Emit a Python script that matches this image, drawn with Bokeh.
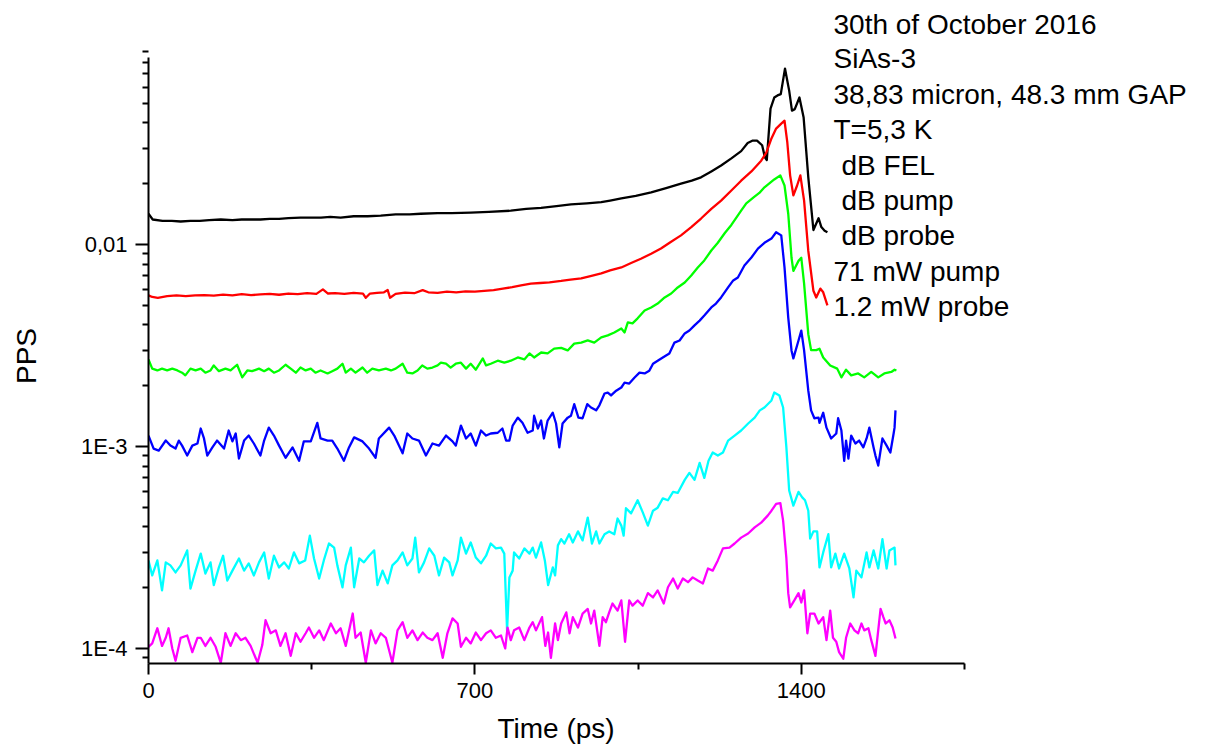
import math
from bokeh.plotting import figure
from bokeh.models import Range1d, FixedTicker, CustomJSTickFormatter, Label, Title
from bokeh.embed import file_html
from bokeh.resources import INLINE

# ---------------- data ----------------
black_x = [0, 9, 30, 50, 69, 90, 110, 130, 155, 180, 200, 220, 240, 260, 280, 300, 326, 350, 370, 390,
           412, 440, 470, 498, 530, 560, 584, 620, 650, 691, 730, 777, 810, 842, 875, 906, 940, 971, 990,
           1014, 1045, 1078, 1110, 1142, 1165, 1185, 1207, 1228, 1250, 1271, 1285, 1296, 1305, 1316, 1322,
           1326, 1334, 1342, 1349, 1356, 1365, 1374, 1380, 1386, 1396, 1405, 1415, 1426, 1437, 1443, 1450, 1456]
black_y = [0.0142, 0.0133, 0.0131, 0.0131, 0.0130, 0.0131, 0.0131, 0.0132, 0.0133, 0.0132, 0.0133, 0.0133,
           0.0133, 0.0134, 0.0134, 0.0135, 0.0136, 0.0136, 0.0136, 0.0137, 0.0136, 0.0138, 0.0138, 0.0139,
           0.0141, 0.0141, 0.0142, 0.0143, 0.0143, 0.0144, 0.0145, 0.0147, 0.0150, 0.0152, 0.0155, 0.0158,
           0.0160, 0.0162, 0.0165, 0.0169, 0.0174, 0.0181, 0.0190, 0.0200, 0.0207, 0.0215, 0.0230, 0.0246,
           0.0267, 0.0290, 0.0318, 0.0327, 0.0327, 0.0310, 0.0270, 0.0262, 0.0471, 0.0534, 0.0547, 0.0555,
           0.0743, 0.0578, 0.0460, 0.0468, 0.0534, 0.0425, 0.0215, 0.0118, 0.0135, 0.0122, 0.0117, 0.0115]

red_x = [0, 8, 20, 40, 60, 80, 100, 120, 140, 160, 180, 200, 220, 240, 260, 280, 300, 320, 340, 360, 374,
         385, 400, 420, 440, 460, 466, 475, 490, 505, 513, 518, 530, 550, 570, 588, 600, 620, 640, 660, 680,
         700, 720, 740, 760, 780, 799, 820, 840, 860, 885, 905, 928, 950, 971, 990, 1014, 1035, 1056, 1078,
         1099, 1120, 1142, 1164, 1185, 1207, 1228, 1250, 1271, 1293, 1314, 1325, 1336, 1346, 1357, 1364,
         1370, 1376, 1383, 1391, 1398, 1406, 1415, 1426, 1432, 1441, 1447, 1456]
red_y = [5.6e-3, 5.5e-3, 5.45e-3, 5.55e-3, 5.6e-3, 5.55e-3, 5.6e-3, 5.62e-3, 5.58e-3, 5.65e-3, 5.6e-3,
         5.68e-3, 5.62e-3, 5.66e-3, 5.7e-3, 5.64e-3, 5.72e-3, 5.68e-3, 5.74e-3, 5.7e-3, 6.0e-3, 5.72e-3,
         5.74e-3, 5.7e-3, 5.76e-3, 5.72e-3, 5.45e-3, 5.72e-3, 5.76e-3, 5.8e-3, 5.95e-3, 5.45e-3, 5.7e-3,
         5.78e-3, 5.74e-3, 5.95e-3, 5.8e-3, 5.76e-3, 5.84e-3, 5.8e-3, 5.86e-3, 5.84e-3, 5.9e-3, 5.95e-3,
         6.05e-3, 6.15e-3, 6.27e-3, 6.4e-3, 6.45e-3, 6.5e-3, 6.6e-3, 6.7e-3, 6.8e-3, 7.0e-3, 7.2e-3,
         7.45e-3, 7.7e-3, 8.1e-3, 8.5e-3, 9.0e-3, 9.55e-3, 1.03e-2, 1.11e-2, 1.22e-2, 1.345e-2, 1.5e-2,
         1.65e-2, 1.85e-2, 2.07e-2, 2.3e-2, 2.6e-2, 2.85e-2, 3.35e-2, 3.75e-2, 3.97e-2, 4.1e-2, 3.2e-2,
         2.2e-2, 1.75e-2, 1.96e-2, 2.2e-2, 1.65e-2, 9.3e-3, 5.9e-3, 5.47e-3, 6.05e-3, 5.8e-3, 5.0e-3]

green_x = [0, 8, 19, 29, 40, 51, 62, 72, 79, 90, 101, 112, 122, 133, 140, 151, 165, 176, 190, 201, 212, 222,
           237, 248, 258, 269, 280, 294, 305, 316, 326, 337, 348, 358, 369, 384, 394, 405, 416, 423, 434,
           444, 459, 469, 480, 494, 509, 520, 530, 545, 555, 566, 577, 587, 598, 609, 620, 627, 638, 648,
           659, 670, 681, 691, 702, 717, 724, 734, 749, 763, 777, 792, 806, 817, 827, 842, 856, 870, 885,
           899, 913, 928, 942, 956, 971, 985, 999, 1014, 1021, 1028, 1038, 1049, 1064, 1078, 1092, 1107,
           1121, 1135, 1150, 1164, 1178, 1192, 1207, 1221, 1236, 1250, 1271, 1282, 1299, 1310, 1321, 1342,
           1355, 1364, 1372, 1379, 1383, 1394, 1400, 1406, 1415, 1421, 1432, 1439, 1447, 1462, 1477, 1486,
           1496, 1507, 1522, 1535, 1550, 1565, 1578, 1593, 1600, 1604]
green_y = [2.7e-3, 2.43e-3, 2.38e-3, 2.43e-3, 2.38e-3, 2.43e-3, 2.38e-3, 2.32e-3, 2.25e-3, 2.43e-3, 2.38e-3,
           2.43e-3, 2.32e-3, 2.38e-3, 2.52e-3, 2.36e-3, 2.43e-3, 2.38e-3, 2.54e-3, 2.2e-3, 2.38e-3, 2.36e-3,
           2.43e-3, 2.36e-3, 2.43e-3, 2.32e-3, 2.38e-3, 2.54e-3, 2.43e-3, 2.32e-3, 2.46e-3, 2.38e-3, 2.43e-3,
           2.32e-3, 2.38e-3, 2.30e-3, 2.36e-3, 2.43e-3, 2.57e-3, 2.32e-3, 2.43e-3, 2.32e-3, 2.46e-3, 2.32e-3,
           2.43e-3, 2.38e-3, 2.43e-3, 2.38e-3, 2.43e-3, 2.57e-3, 2.32e-3, 2.30e-3, 2.38e-3, 2.52e-3, 2.43e-3,
           2.46e-3, 2.52e-3, 2.6e-3, 2.57e-3, 2.46e-3, 2.57e-3, 2.6e-3, 2.43e-3, 2.57e-3, 2.40e-3, 2.73e-3,
           2.52e-3, 2.57e-3, 2.66e-3, 2.60e-3, 2.66e-3, 2.76e-3, 2.70e-3, 2.89e-3, 2.76e-3, 2.92e-3, 2.89e-3,
           3.05e-3, 3.08e-3, 2.99e-3, 3.23e-3, 3.27e-3, 3.35e-3, 3.27e-3, 3.47e-3, 3.55e-3, 3.67e-3, 3.84e-3,
           3.67e-3, 4.12e-3, 4.07e-3, 4.31e-3, 4.71e-3, 4.88e-3, 5.1e-3, 5.47e-3, 5.72e-3, 6.13e-3, 6.49e-3,
           7.03e-3, 7.7e-3, 8.34e-3, 9.34e-3, 1.02e-2, 1.14e-2, 1.25e-2, 1.47e-2, 1.6e-2, 1.72e-2, 1.8e-2,
           1.92e-2, 2.1e-2, 2.2e-2, 1.96e-2, 1.42e-2, 8.6e-3, 7.4e-3, 8.3e-3, 8.6e-3, 6.4e-3, 3.6e-3, 3.0e-3,
           3.0e-3, 3.05e-3, 2.76e-3, 2.52e-3, 2.43e-3, 2.2e-3, 2.40e-3, 2.25e-3, 2.30e-3, 2.2e-3, 2.34e-3,
           2.2e-3, 2.30e-3, 2.34e-3, 2.40e-3, 2.38e-3]

blue_x = [0, 11, 22, 37, 47, 58, 65, 72, 83, 94, 105, 112, 119, 126, 137, 147, 162, 172, 180, 187, 194, 205,
          215, 226, 240, 248, 258, 269, 280, 294, 309, 323, 333, 348, 362, 369, 384, 394, 405, 419, 430, 441,
          459, 473, 487, 494, 516, 527, 545, 555, 566, 580, 595, 609, 623, 638, 652, 659, 670, 681, 691, 702,
          713, 724, 734, 749, 759, 767, 774, 781, 792, 802, 813, 824, 827, 835, 842, 848, 856, 867, 874, 881,
          888, 899, 906, 913, 922, 931, 941, 949, 960, 967, 978, 985, 992, 1003, 1014, 1021, 1031, 1042, 1053,
          1064, 1074, 1082, 1092, 1103, 1117, 1128, 1139, 1150, 1160, 1171, 1182, 1192, 1207, 1217, 1228,
          1243, 1254, 1264, 1278, 1293, 1307, 1321, 1336, 1346, 1357, 1364, 1372, 1379, 1383, 1394, 1400,
          1406, 1415, 1421, 1428, 1437, 1439, 1447, 1454, 1464, 1475, 1479, 1486, 1492, 1496, 1501, 1507,
          1516, 1524, 1533, 1540, 1546, 1555, 1559, 1565, 1574, 1583, 1591, 1598, 1600, 1602]
blue_y = [1.133e-3, 9.77e-4, 9.55e-4, 1.071e-3, 1.011e-3, 9.77e-4, 1.07e-3, 1.01e-3, 9.02e-4, 1.01e-3,
          1.035e-3, 1.228e-3, 1.096e-3, 9.02e-4, 9.9e-4, 1.07e-3, 9.77e-4, 1.2e-3, 1.06e-3, 1.16e-3, 8.72e-4,
          1.07e-3, 1.133e-3, 1.035e-3, 9.02e-4, 1.07e-3, 1.24e-3, 1.133e-3, 1.01e-3, 8.8e-4, 9.9e-4, 8.5e-4,
          1.06e-3, 1.06e-3, 1.31e-3, 1.096e-3, 1.07e-3, 1.07e-3, 9.77e-4, 8.5e-4, 9.9e-4, 1.11e-3, 1.06e-3,
          9.77e-4, 8.8e-4, 1.096e-3, 1.24e-3, 1.133e-3, 9.25e-4, 1.16e-3, 1.096e-3, 1.07e-3, 9.02e-4,
          1.035e-3, 1.01e-3, 1.133e-3, 1.06e-3, 1.01e-3, 1.27e-3, 1.096e-3, 1.16e-3, 1.01e-3, 1.2e-3,
          1.133e-3, 1.16e-3, 1.17e-3, 1.228e-3, 1.07e-3, 1.07e-3, 1.27e-3, 1.39e-3, 1.31e-3, 1.17e-3, 1.2e-3,
          1.42e-3, 1.228e-3, 1.345e-3, 1.096e-3, 1.345e-3, 1.47e-3, 1.3e-3, 9.9e-4, 1.3e-3, 1.39e-3, 1.42e-3,
          1.62e-3, 1.39e-3, 1.38e-3, 1.62e-3, 1.56e-3, 1.51e-3, 1.60e-3, 1.83e-3, 1.85e-3, 1.79e-3, 1.89e-3,
          1.96e-3, 2.07e-3, 2.05e-3, 2.19e-3, 2.32e-3, 2.30e-3, 2.37e-3, 2.57e-3, 2.66e-3, 2.76e-3, 2.89e-3,
          3.27e-3, 3.35e-3, 3.63e-3, 3.75e-3, 3.98e-3, 4.2e-3, 4.45e-3, 4.88e-3, 5.1e-3, 5.47e-3, 6.13e-3,
          6.64e-3, 6.87e-3, 7.87e-3, 8.62e-3, 9.55e-3, 1.02e-2, 1.07e-2, 1.15e-2, 1.11e-2, 7.7e-3, 4.35e-3,
          2.99e-3, 2.73e-3, 3.35e-3, 3.75e-3, 2.99e-3, 1.89e-3, 1.51e-3, 1.38e-3, 1.39e-3, 1.31e-3, 1.47e-3,
          1.24e-3, 1.096e-3, 1.16e-3, 1.38e-3, 1.2e-3, 8.5e-4, 1.07e-3, 8.72e-4, 1.133e-3, 1.035e-3, 1.07e-3,
          9.9e-4, 1.096e-3, 1.24e-3, 9.9e-4, 9.02e-4, 8.05e-4, 1.096e-3, 1.01e-3, 9.34e-4, 1.16e-3, 1.24e-3,
          1.51e-3]

cyan_x = [0, 8, 19, 29, 37, 47, 58, 69, 83, 90, 101, 112, 122, 133, 140, 151, 160, 169, 180, 194, 205, 215,
          226, 237, 248, 258, 269, 280, 291, 301, 312, 323, 336, 346, 355, 366, 376, 387, 398, 405, 416, 423,
          434, 441, 452, 462, 473, 484, 491, 502, 513, 523, 534, 545, 555, 566, 572, 580, 591, 602, 613, 623,
          634, 645, 652, 663, 670, 681, 691, 702, 713, 724, 734, 745, 756, 763, 769, 774, 781, 784, 795, 806,
          817, 824, 831, 842, 850, 857, 867, 872, 878, 885, 892, 902, 910, 921, 931, 942, 951, 960, 967, 978,
          988, 999, 1006, 1014, 1019, 1024, 1035, 1049, 1060, 1071, 1082, 1092, 1103, 1114, 1125, 1135, 1150,
          1160, 1171, 1182, 1192, 1201, 1210, 1221, 1232, 1243, 1257, 1271, 1286, 1300, 1311, 1321, 1336,
          1342, 1353, 1361, 1368, 1374, 1383, 1394, 1402, 1408, 1415, 1419, 1426, 1434, 1439, 1447, 1458,
          1464, 1473, 1481, 1492, 1503, 1512, 1518, 1529, 1540, 1546, 1555, 1565, 1574, 1583, 1589, 1600, 1602]
cyan_y = [2.73e-4, 2.30e-4, 2.73e-4, 1.94e-4, 2.67e-4, 2.58e-4, 2.38e-4, 2.58e-4, 3.06e-4, 1.98e-4, 2.43e-4,
          2.95e-4, 2.35e-4, 2.67e-4, 2.06e-4, 2.52e-4, 2.88e-4, 2.17e-4, 2.43e-4, 2.79e-4, 2.43e-4, 2.64e-4,
          2.30e-4, 2.67e-4, 2.99e-4, 2.22e-4, 2.88e-4, 2.52e-4, 2.67e-4, 2.49e-4, 2.99e-4, 2.64e-4, 2.73e-4,
          3.62e-4, 2.79e-4, 2.22e-4, 2.73e-4, 3.31e-4, 3.16e-4, 2.58e-4, 2.01e-4, 2.58e-4, 3.16e-4, 2.01e-4,
          2.79e-4, 2.67e-4, 2.88e-4, 3.06e-4, 2.06e-4, 2.43e-4, 2.10e-4, 2.58e-4, 2.73e-4, 2.99e-4, 2.58e-4,
          2.79e-4, 3.54e-4, 2.38e-4, 2.67e-4, 3.13e-4, 2.88e-4, 2.30e-4, 2.82e-4, 2.67e-4, 2.30e-4, 2.73e-4,
          3.54e-4, 2.95e-4, 3.35e-4, 2.82e-4, 2.64e-4, 2.88e-4, 3.31e-4, 3.13e-4, 3.16e-4, 2.95e-4, 1.23e-4,
          2.25e-4, 2.43e-4, 2.99e-4, 2.79e-4, 3.13e-4, 2.95e-4, 3.16e-4, 2.82e-4, 3.35e-4, 2.73e-4, 2.06e-4,
          2.52e-4, 2.30e-4, 3.24e-4, 3.48e-4, 3.31e-4, 3.68e-4, 3.35e-4, 3.80e-4, 3.43e-4, 4.45e-4, 3.31e-4,
          3.80e-4, 3.31e-4, 3.68e-4, 3.80e-4, 3.68e-4, 4.4e-4, 4.06e-4, 3.62e-4, 4.95e-4, 4.67e-4, 5.42e-4,
          4.72e-4, 4.06e-4, 4.81e-4, 4.98e-4, 5.54e-4, 5.42e-4, 5.96e-4, 5.89e-4, 6.84e-4, 7.4e-4, 6.84e-4,
          8.3e-4, 6.99e-4, 8.5e-4, 9.34e-4, 9.02e-4, 9.34e-4, 1.07e-3, 1.133e-3, 1.2e-3, 1.3e-3, 1.39e-3,
          1.51e-3, 1.56e-3, 1.69e-3, 1.85e-3, 1.79e-3, 1.56e-3, 9.9e-4, 6.06e-4, 5.1e-4, 5.96e-4, 5.6e-4,
          5.42e-4, 4.81e-4, 3.5e-4, 3.8e-4, 3.8e-4, 2.52e-4, 2.99e-4, 3.68e-4, 2.52e-4, 2.95e-4, 2.49e-4,
          2.95e-4, 2.49e-4, 1.79e-4, 2.43e-4, 2.25e-4, 2.99e-4, 2.52e-4, 3.06e-4, 2.49e-4, 3.48e-4, 2.49e-4,
          3.06e-4, 3.16e-4, 2.58e-4]

magenta_x = [0, 8, 19, 29, 37, 43, 51, 58, 69, 83, 94, 105, 112, 122, 133, 144, 155, 165, 176, 187, 198, 208,
             219, 234, 244, 251, 262, 273, 283, 294, 305, 316, 326, 337, 344, 355, 366, 376, 391, 402, 412,
             423, 438, 444, 455, 466, 477, 487, 498, 509, 523, 534, 545, 555, 566, 577, 588, 598, 609, 620,
             631, 641, 652, 663, 670, 681, 691, 702, 713, 724, 734, 745, 756, 765, 770, 777, 784, 795, 806,
             817, 824, 831, 844, 851, 857, 863, 872, 878, 885, 896, 903, 910, 921, 931, 942, 949, 956, 967,
             974, 981, 988, 995, 1006, 1014, 1022, 1031, 1038, 1049, 1060, 1071, 1082, 1092, 1105, 1114,
             1125, 1135, 1146, 1157, 1167, 1178, 1189, 1200, 1210, 1221, 1232, 1246, 1257, 1271, 1286, 1300,
             1314, 1328, 1336, 1346, 1355, 1361, 1368, 1372, 1376, 1385, 1394, 1400, 1406, 1413, 1419, 1428,
             1437, 1447, 1454, 1462, 1468, 1475, 1481, 1490, 1496, 1505, 1514, 1522, 1529, 1535, 1544, 1550,
             1559, 1570, 1576, 1581, 1589, 1596, 1602]
magenta_y = [1.02e-4, 1.06e-4, 1.26e-4, 1.03e-4, 1.13e-4, 1.26e-4, 1.0e-4, 8.7e-5, 1.13e-4, 1.16e-4, 9.6e-5,
             1.13e-4, 1.13e-4, 1.03e-4, 1.13e-4, 1.02e-4, 8.5e-5, 1.19e-4, 1.03e-4, 1.19e-4, 1.10e-4, 1.13e-4,
             1.03e-4, 8.5e-5, 1.04e-4, 1.38e-4, 1.19e-4, 1.23e-4, 1.03e-4, 1.19e-4, 9.2e-5, 1.19e-4, 1.08e-4,
             1.19e-4, 1.27e-4, 1.13e-4, 1.23e-4, 1.10e-4, 1.33e-4, 1.19e-4, 1.26e-4, 1.03e-4, 1.49e-4, 1.13e-4,
             1.2e-4, 8.5e-5, 1.23e-4, 1.06e-4, 1.19e-4, 1.13e-4, 8.5e-5, 1.23e-4, 1.35e-4, 1.13e-4, 1.23e-4,
             1.10e-4, 1.2e-4, 1.13e-4, 1.10e-4, 1.19e-4, 9.0e-5, 1.19e-4, 1.41e-4, 1.33e-4, 1.02e-4, 1.13e-4,
             1.06e-4, 1.2e-4, 1.10e-4, 1.19e-4, 1.23e-4, 1.13e-4, 1.16e-4, 1.0e-4, 1.27e-4, 1.10e-4, 1.23e-4,
             1.27e-4, 1.10e-4, 1.27e-4, 1.35e-4, 1.23e-4, 1.43e-4, 1.03e-4, 1.2e-4, 9.0e-5, 1.33e-4, 1.10e-4,
             1.33e-4, 1.51e-4, 1.19e-4, 1.43e-4, 1.27e-4, 1.49e-4, 1.57e-4, 1.33e-4, 1.54e-4, 1.03e-4, 1.43e-4,
             1.35e-4, 1.51e-4, 1.67e-4, 1.54e-4, 1.73e-4, 1.08e-4, 1.73e-4, 1.63e-4, 1.73e-4, 1.63e-4, 1.88e-4,
             1.79e-4, 1.94e-4, 1.67e-4, 2.01e-4, 2.22e-4, 1.98e-4, 2.22e-4, 2.13e-4, 2.25e-4, 2.17e-4, 2.10e-4,
             2.49e-4, 2.43e-4, 2.73e-4, 3.13e-4, 3.16e-4, 3.31e-4, 3.54e-4, 3.71e-4, 3.98e-4, 4.2e-4, 4.55e-4,
             4.81e-4, 5.2e-4, 5.25e-4, 4.3e-4, 2.8e-4, 1.88e-4, 1.6e-4, 1.73e-4, 1.88e-4, 1.69e-4, 1.94e-4,
             1.19e-4, 1.49e-4, 1.49e-4, 1.33e-4, 1.43e-4, 1.10e-4, 1.54e-4, 1.13e-4, 1.08e-4, 9.6e-5, 8.9e-5,
             1.13e-4, 1.33e-4, 1.23e-4, 1.19e-4, 1.33e-4, 1.23e-4, 1.26e-4, 1.10e-4, 9.2e-5, 1.57e-4, 1.43e-4,
             1.33e-4, 1.38e-4, 1.27e-4, 1.12e-4]

x_axis_span = [0, 1750]
y_axis_span = [8.43e-5, 8.43e-2]
x_major_ticks = [0, 700, 1400]
x_minor_ticks = [350, 1050, 1750]
y_major_ticks = [1e-4, 1e-3, 1e-2]
y_major_labels = ["1E-4", "1E-3", "0,01"]
x_title = "Time (ps)"
y_title = "PPS"
notes = ["30th of October 2016", "SiAs-3", "38,83 micron, 48.3 mm GAP", "T=5,3 K",
         " dB FEL", " dB pump", " dB probe", "71 mW pump", "1.2 mW probe"]

series = [
    (black_x, black_y, "#000000"),
    (red_x, red_y, "#FF0000"),
    (green_x, green_y, "#00FF00"),
    (blue_x, blue_y, "#0000FF"),
    (cyan_x, cyan_y, "#00FFFF"),
    (magenta_x, magenta_y, "#FF00FF"),
]

FONT = "Liberation Sans"

# ---------------- layout ----------------
# Axes occupy 816 x 606 px (left edge 148, bottom edge 663).  The plot frame is widened
# to the right edge and raised towards the top so the note block is not clipped;
# the axes are limited with `bounds`.
W, H = 1208, 755
LEFT, TOP, BOTTOM_BORDER = 148, 48, 92
AX_W, AX_H = 816, 606
frame_w, frame_h = W - LEFT, H - BOTTOM_BORDER - TOP
x_end = x_axis_span[0] + (x_axis_span[1] - x_axis_span[0]) * frame_w / AX_W
lo, hi = math.log10(y_axis_span[0]), math.log10(y_axis_span[1])
y_end = 10 ** (lo + (hi - lo) * frame_h / AX_H)

p = figure(width=W, height=H, y_axis_type="log",
           x_range=Range1d(x_axis_span[0], x_end), y_range=Range1d(y_axis_span[0], y_end),
           output_backend="svg", toolbar_location=None,
           min_border_left=LEFT, min_border_right=0, min_border_top=TOP,
           min_border_bottom=BOTTOM_BORDER)
p.outline_line_color = None
p.xgrid.visible = False
p.ygrid.visible = False
p.background_fill_color = "white"
p.border_fill_color = "white"

for xs, ys, col in series:
    p.line(xs, ys, line_color=col, line_width=2.3, line_join="round")

# x axis
xa = p.xaxis[0]
xa.ticker = FixedTicker(ticks=x_major_ticks, minor_ticks=x_minor_ticks)
xa.bounds = (x_axis_span[0], x_axis_span[1])

# y axis
minor_y = [m * 10.0 ** e for e in (-5, -4, -3, -2) for m in range(2, 10)]
ya = p.yaxis[0]
ya.ticker = FixedTicker(ticks=y_major_ticks, minor_ticks=minor_y)
ya.formatter = CustomJSTickFormatter(args=dict(vals=y_major_ticks, labs=y_major_labels), code="""
for (let i = 0; i < vals.length; i++) {
  if (Math.abs(Math.log10(tick) - Math.log10(vals[i])) < 1e-6) { return labs[i]; }
}
return "";
""")
ya.axis_label = y_title
ya.bounds = (y_axis_span[0], y_axis_span[1])

for ax in (xa, ya):
    ax.axis_line_width = 2
    ax.axis_line_color = "black"
    ax.major_tick_line_width = 2
    ax.minor_tick_line_width = 2
    ax.major_tick_line_color = "black"
    ax.minor_tick_line_color = "black"
    ax.major_tick_in = 0
    ax.minor_tick_in = 0
    ax.major_label_text_font = FONT
    ax.major_label_text_font_size = "22px"
    ax.major_label_text_color = "black"
    ax.major_label_standoff = 8
    ax.axis_label_text_font = FONT
    ax.axis_label_text_font_size = "28px"
    ax.axis_label_text_font_style = "normal"
    ax.axis_label_text_color = "black"

xa.major_tick_out = 11
xa.minor_tick_out = 6
ya.major_tick_out = 13
ya.minor_tick_out = 6
ya.axis_label_standoff = 36

# x axis title, centred under the bounded axis (left edge of text at 497 px)
p.add_layout(Title(text=x_title, align="left", offset=349, vertical_align="bottom", standoff=21,
                   text_font=FONT, text_font_size="28px", text_font_style="normal",
                   text_color="black"), "below")

# first note line as the plot title (sits above the frame)
p.title.text = notes[0]
p.title.align = "left"
p.title.offset = 685
p.title.vertical_align = "top"
p.title.standoff = 14
p.title.text_font = FONT
p.title.text_font_size = "28px"
p.title.text_font_style = "normal"
p.title.text_color = "black"

# other note lines (screen units relative to plot frame: x from left, y from bottom)
frame_bottom = H - BOTTOM_BORDER
for i, t in enumerate(notes[1:], start=1):
    indent = 8 if t.startswith(" ") else 0
    p.add_layout(Label(x=685 + indent, y=frame_bottom - (23 + 35.4 * i), x_units="screen", y_units="screen",
                       text=t.strip(), text_font=FONT, text_font_size="28px",
                       text_color="black", text_baseline="middle", text_align="left"))

open("out.html", "w").write(file_html(p, INLINE))
